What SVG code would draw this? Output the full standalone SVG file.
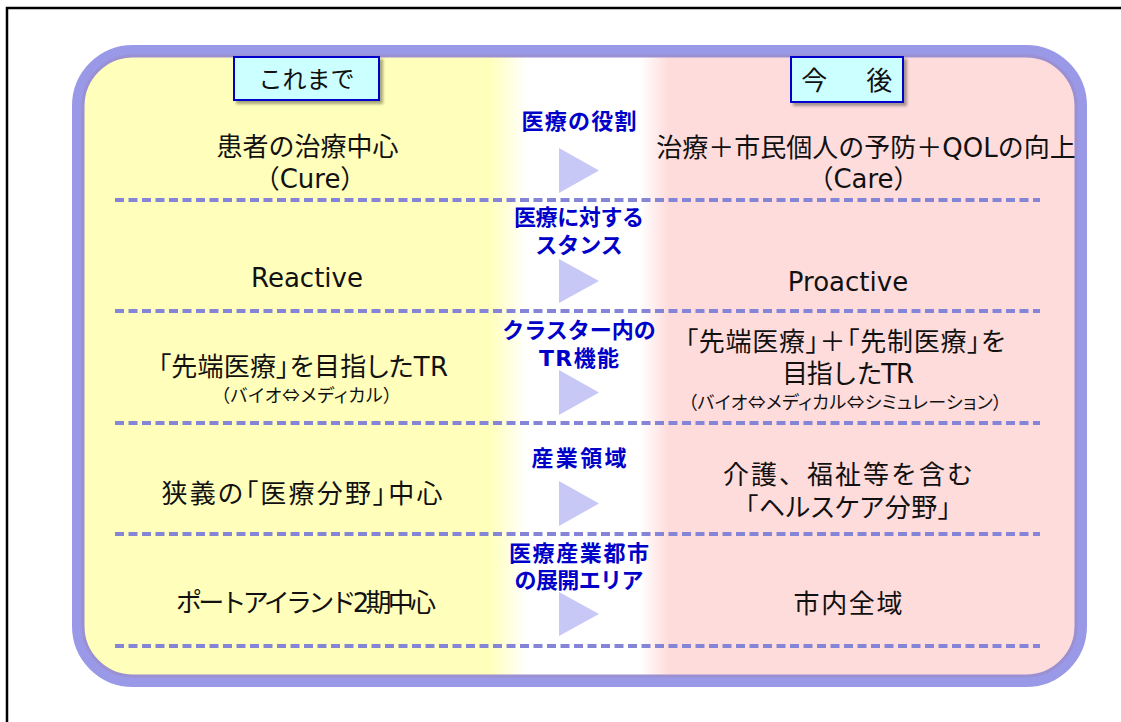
<svg xmlns="http://www.w3.org/2000/svg" width="1121" height="722" viewBox="0 0 1121 722">
  <style>
    .t { font-family: "DejaVu Sans", "Noto Sans CJK JP", sans-serif; fill: #111; font-size: 26px; text-anchor: middle; }
    .p { font-feature-settings: "palt"; }
    .s { font-family: "Noto Sans CJK JP", sans-serif; font-size: 18px; font-feature-settings: "palt"; }
    .b { font-family: "DejaVu Sans", "Noto Sans CJK JP", sans-serif; fill: #0000c8; font-size: 22px; font-weight: bold; text-anchor: middle; }
    .h { font-family: "Noto Sans CJK JP", sans-serif; fill: #111; text-anchor: middle; }
    .hdr { fill: #ccffff; stroke: #0000cc; stroke-width: 2; }
    .sep { stroke: #8585d8; stroke-width: 4; stroke-dasharray: 9 4.5; fill: none; }
    .tri { fill: #c8c8f6; }
  </style>
  <defs>
    <linearGradient id="bg" gradientUnits="userSpaceOnUse" x1="0" y1="0" x2="1121" y2="0">
      <stop offset="0" stop-color="#ffffbb"/>
      <stop offset="0.437" stop-color="#ffffbb"/>
      <stop offset="0.470" stop-color="#ffffff"/>
      <stop offset="0.571" stop-color="#ffffff"/>
      <stop offset="0.596" stop-color="#ffdcdc"/>
      <stop offset="1" stop-color="#ffdcdc"/>
    </linearGradient>
    <filter id="sh" x="-20%" y="-20%" width="150%" height="160%">
      <feDropShadow dx="3" dy="3" stdDeviation="1.5" flood-color="#000" flood-opacity="0.35"/>
    </filter>
  </defs>

  <rect x="7" y="8" width="1200" height="800" fill="none" stroke="#000" stroke-width="2.5"/>

  <g id="panel">
    <rect x="78" y="51" width="1003" height="630" rx="55" ry="55" fill="url(#bg)" stroke="#9999e8" stroke-width="12"/>
    <rect x="83" y="56" width="993" height="620" rx="50" ry="50" fill="none" stroke="#9b90d2" stroke-width="3"/>
  </g>

  <g id="header-before">
    <rect class="hdr" x="234" y="57" width="145" height="43" filter="url(#sh)"/>
    <text class="h" x="306.5" y="88" font-size="24">これまで</text>
  </g>
  <g id="header-after">
    <rect class="hdr" x="791" y="57" width="112" height="45" filter="url(#sh)"/>
    <text class="h" x="850" y="90" font-size="26" letter-spacing="6.5">今　後</text>
  </g>

  <g id="separators">
    <line class="sep" x1="115" y1="200" x2="1040" y2="200"/>
    <line class="sep" x1="115" y1="311" x2="1040" y2="311"/>
    <line class="sep" x1="115" y1="423" x2="1040" y2="423"/>
    <line class="sep" x1="115" y1="534" x2="1040" y2="534"/>
    <line class="sep" x1="115" y1="646" x2="1040" y2="646"/>
  </g>

  <g id="connectors">
    <polygon class="tri" points="559,148 599,170.5 559,193"/>
    <polygon class="tri" points="559,259 599,281 559,303"/>
    <polygon class="tri" points="559,370 599,392.5 559,415"/>
    <polygon class="tri" points="559,481 599,503.5 559,526"/>
    <polygon class="tri" points="559,592 599,614 559,636"/>
  </g>

  <g id="row1">
    <text class="t" x="307.5" y="156">患者の治療中心</text>
    <text class="t" x="310" y="188">（Cure）</text>
    <text class="b" x="579" y="129" textLength="115" lengthAdjust="spacing">医療の役割</text>
    <text class="t" x="866" y="157">治療＋市民個人の予防＋QOLの向上</text>
    <text class="t" x="863.5" y="188">（Care）</text>
  </g>

  <g id="row2">
    <text class="t" x="307" y="287">Reactive</text>
    <text class="b" x="579" y="225" textLength="130" lengthAdjust="spacing">医療に対する</text>
    <text class="b" x="579" y="253">スタンス</text>
    <text class="t" x="848" y="291">Proactive</text>
  </g>

  <g id="row3">
    <text class="t p" x="303" y="376" textLength="290" lengthAdjust="spacing">「先端医療」を目指したTR</text>
    <text class="t s" x="306.5" y="402" textLength="172" lengthAdjust="spacing">（バイオ⇔メディカル）</text>
    <text class="b" x="579" y="338">クラスター内の</text>
    <text class="b" x="579" y="366" textLength="80" lengthAdjust="spacing">TR機能</text>
    <text class="t p" x="845" y="351" textLength="320" lengthAdjust="spacing">「先端医療」＋「先制医療」を</text>
    <text class="t" x="848" y="383" textLength="132" lengthAdjust="spacing">目指したTR</text>
    <text class="t s" x="845" y="409" textLength="314" lengthAdjust="spacing">（バイオ⇔メディカル⇔シミュレーション）</text>
  </g>

  <g id="row4">
    <text class="t p" x="302" y="503" textLength="281" lengthAdjust="spacing">狭義の「医療分野」中心</text>
    <text class="b" x="579" y="466" textLength="95" lengthAdjust="spacing">産業領域</text>
    <text class="t" x="848" y="484" textLength="250" lengthAdjust="spacing">介護、福祉等を含む</text>
    <text class="t p" x="848" y="517" textLength="206" lengthAdjust="spacing">「ヘルスケア分野」</text>
  </g>

  <g id="row5">
    <text class="t" x="306" y="612" textLength="260" lengthAdjust="spacing">ポートアイランド2期中心</text>
    <text class="b" x="579" y="561" textLength="140" lengthAdjust="spacing">医療産業都市</text>
    <text class="b" x="579" y="588" textLength="129" lengthAdjust="spacing">の展開エリア</text>
    <text class="t" x="848" y="613" textLength="109" lengthAdjust="spacing">市内全域</text>
  </g>
</svg>
